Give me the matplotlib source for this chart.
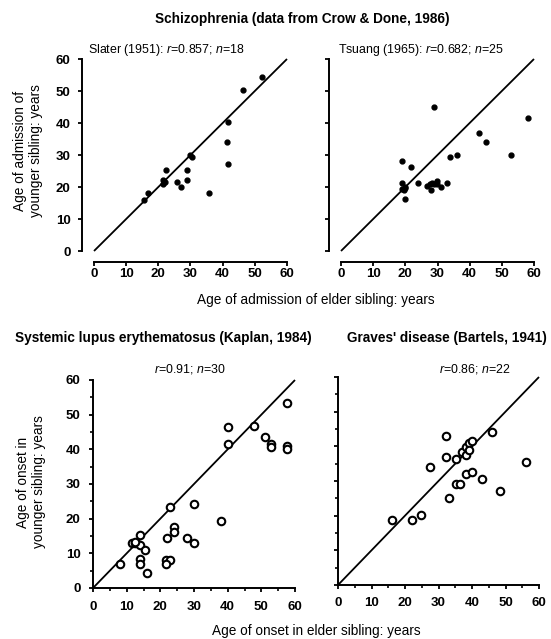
import matplotlib
matplotlib.use("Agg")
import matplotlib.pyplot as plt
from matplotlib.ticker import MultipleLocator

plt.rcParams['font.family'] = ['Liberation Sans', 'DejaVu Sans']
plt.rcParams['mathtext.fontset'] = 'custom'
plt.rcParams['mathtext.rm'] = 'Liberation Sans'
plt.rcParams['mathtext.it'] = 'Liberation Sans:italic'
plt.rcParams['mathtext.bf'] = 'Liberation Sans:bold'

# ---------------- data ----------------
slater_elder = [52.3, 46.4, 41.7, 41.3, 41.6, 35.8, 29.8, 30.6, 28.8, 28.9,
                25.9, 26.9, 22.5, 21.5, 21.3, 16.7, 15.6, 22.0]
slater_younger = [54.5, 50.2, 40.2, 34.2, 27.2, 18.0, 30.1, 29.3, 25.2, 22.2,
                  21.7, 20.1, 25.2, 22.3, 20.9, 18.0, 15.9, 21.5]

tsuang_elder = [28.9, 18.9, 21.7, 18.9, 19.9, 19.5, 19.9, 23.9, 26.6, 27.7,
                28.0, 28.2, 29.8, 29.8, 32.9, 34.0, 36.0, 43.0, 45.0, 53.0,
                58.0, 20.0, 29.0, 31.0, 19.0]
tsuang_younger = [45.1, 28.2, 26.1, 21.1, 19.7, 19.0, 16.1, 21.1, 20.3, 20.9,
                  19.1, 21.4, 21.9, 20.8, 21.4, 29.3, 30.1, 37.0, 34.0, 30.0,
                  41.5, 20.0, 21.0, 20.0, 19.5]

sle_elder = [40.0, 40.0, 47.9, 51.0, 52.8, 52.9, 57.5, 57.5, 57.5, 22.8,
             30.1, 38.0, 13.9, 11.6, 12.4, 13.9, 15.3, 8.1, 13.9, 13.9,
             16.1, 21.9, 24.1, 24.1, 27.9, 30.1, 21.8, 22.8, 21.8, 12.4]
sle_younger = [46.4, 41.5, 46.6, 43.6, 41.4, 40.7, 53.5, 41.0, 40.0, 23.4,
               24.3, 19.4, 15.4, 12.9, 12.9, 12.4, 11.0, 6.9, 8.4, 6.9,
               4.2, 14.4, 17.6, 16.1, 14.5, 13.1, 8.1, 8.1, 6.9, 13.3]

graves_elder = [16.1, 22.1, 24.9, 27.4, 32.1, 32.1, 33.0, 35.3, 35.3, 36.3,
                37.0, 38.1, 38.1, 38.1, 39.0, 40.0, 39.0, 40.0, 43.0, 46.0,
                48.5, 56.0]
graves_younger = [18.8, 18.8, 20.1, 34.0, 43.0, 37.0, 25.1, 36.4, 29.0, 29.0,
                  38.4, 39.9, 37.4, 32.1, 41.0, 41.5, 39.0, 32.5, 30.5, 44.0,
                  27.0, 35.5]

ticks = [0, 10, 20, 30, 40, 50, 60]

# ---------------- figure ----------------
W, H = 551, 639
fig = plt.figure(figsize=(W / 100, H / 100), dpi=100)


def box(x0, x1, y0, y1):
    return [x0 / W, 1 - y1 / H, (x1 - x0) / W, (y1 - y0) / H]


def fx(x):
    return x / W


def fy(y):
    return 1 - y / H


TFS = 9.5   # tick labels
LFS = 9.8   # axis labels
HFS = 9.8   # headings
SFS = 8.9   # sub-headings


def bold_ticks(ax):
    for lab in ax.get_xticklabels() + ax.get_yticklabels():
        lab.set_fontweight('bold')


def style_top(ax, ylabels):
    ax.set_xlim(0, 60)
    ax.set_ylim(0, 60)
    ax.set_xticks(ticks)
    ax.set_yticks(ticks)
    for s in ['top', 'right']:
        ax.spines[s].set_visible(False)
    ax.spines['left'].set_position(('outward', 9))
    ax.spines['bottom'].set_position(('outward', 8))
    for s in ['left', 'bottom']:
        ax.spines[s].set_linewidth(1.4)
    ax.tick_params(direction='out', length=3, width=1.3,
                   labelsize=TFS, labelleft=ylabels)
    ax.tick_params(axis='x', pad=1.5)
    ax.tick_params(axis='y', pad=5)
    bold_ticks(ax)
    ax.set_facecolor('none')


def style_bottom(ax, ylabels):
    ax.set_xlim(0, 60)
    ax.set_ylim(0, 60)
    ax.set_xticks(ticks)
    ax.set_yticks(ticks)
    ax.xaxis.set_minor_locator(MultipleLocator(5))
    ax.yaxis.set_minor_locator(MultipleLocator(5))
    for s in ['top', 'right']:
        ax.spines[s].set_visible(False)
    for s in ['left', 'bottom']:
        ax.spines[s].set_linewidth(1.4)
    ax.tick_params(which='major', direction='out', length=3, width=1.3,
                   labelsize=TFS, labelleft=ylabels)
    ax.tick_params(which='minor', direction='out', length=2.2, width=1.2)
    ax.tick_params(axis='x', which='major', pad=6)
    ax.tick_params(axis='y', which='major', pad=6)
    bold_ticks(ax)
    ax.set_facecolor('none')


def diag(ax):
    ax.plot([0, 60], [0, 60], color='black', lw=1.3, clip_on=False,
            solid_capstyle='butt')


ax1 = fig.add_axes(box(94, 287, 59, 251))
style_top(ax1, True)
diag(ax1)
ax1.plot(slater_elder, slater_younger, 'o', color='black', ms=3.5,
         clip_on=False)

ax2 = fig.add_axes(box(341, 534, 59, 251))
style_top(ax2, False)
diag(ax2)
ax2.plot(tsuang_elder, tsuang_younger, 'o', color='black', ms=3.5,
         clip_on=False)

ax3 = fig.add_axes(box(93, 295, 380, 588))
style_bottom(ax3, True)
diag(ax3)
ax3.plot(sle_elder, sle_younger, 'o', mfc='white', mec='black', mew=1.5,
         ms=5.4, clip_on=False)

ax4 = fig.add_axes(box(338, 539, 377, 585))
style_bottom(ax4, False)
diag(ax4)
ax4.plot(graves_elder, graves_younger, 'o', mfc='white', mec='black',
         mew=1.5, ms=5.4, clip_on=False)

# ---------------- texts ----------------
fig.text(fx(302), fy(19), 'Schizophrenia (data from Crow & Done, 1986)',
         ha='center', va='center', fontsize=HFS, fontweight='bold')
fig.text(fx(88), fy(50), r'Slater (1951): $\mathit{r}$=0.857; $\mathit{n}$=18',
         ha='left', va='center', fontsize=SFS)
fig.text(fx(338), fy(50), r'Tsuang (1965): $\mathit{r}$=0.682; $\mathit{n}$=25',
         ha='left', va='center', fontsize=SFS)
fig.text(fx(28), fy(151), 'Age of admission of\nyounger sibling: years',
         ha='center', va='center', rotation=90, fontsize=LFS,
         linespacing=1.15)
fig.text(fx(316), fy(300), 'Age of admission of elder sibling: years',
         ha='center', va='center', fontsize=LFS)

fig.text(fx(15), fy(338), 'Systemic lupus erythematosus (Kaplan, 1984)',
         ha='left', va='center', fontsize=HFS, fontweight='bold')
fig.text(fx(547), fy(338), "Graves' disease (Bartels, 1941)",
         ha='right', va='center', fontsize=HFS, fontweight='bold')
fig.text(fx(190), fy(369), r'$\mathit{r}$=0.91; $\mathit{n}$=30',
         ha='center', va='center', fontsize=SFS)
fig.text(fx(475), fy(369), r'$\mathit{r}$=0.86; $\mathit{n}$=22',
         ha='center', va='center', fontsize=SFS)
fig.text(fx(31), fy(482), 'Age of onset in\nyounger sibling: years',
         ha='center', va='center', rotation=90, fontsize=LFS,
         linespacing=1.15)
fig.text(fx(316), fy(631), 'Age of onset in elder sibling: years',
         ha='center', va='center', fontsize=LFS)

fig.savefig('out.png', dpi=100, facecolor='white')
